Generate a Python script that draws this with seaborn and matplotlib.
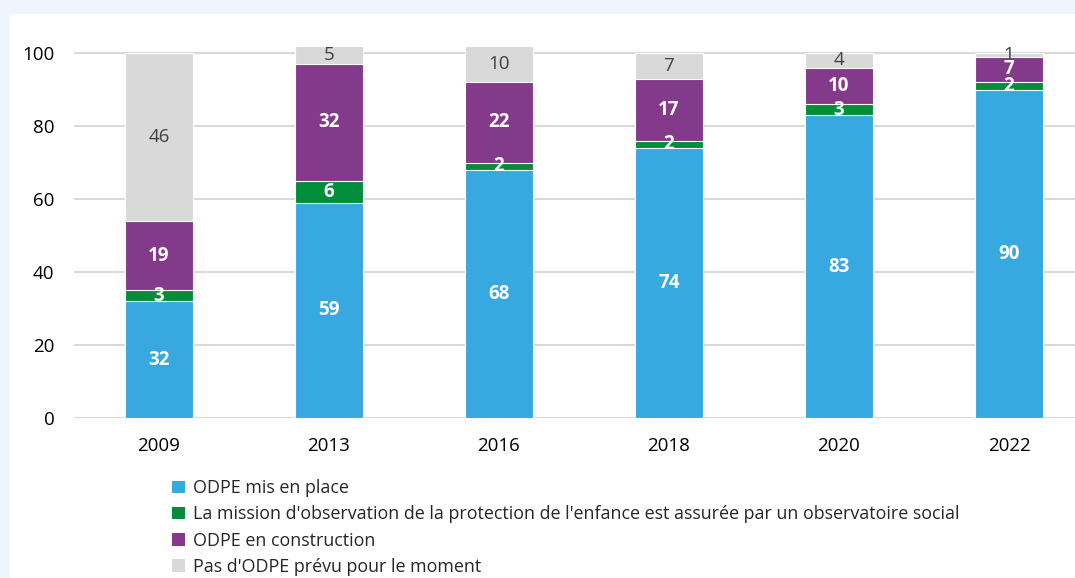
import numpy as np
import pandas as pd
from matplotlib import pyplot as plt
from matplotlib.patches import Rectangle, Patch
import seaborn as sns

# data
years = ["2009", "2013", "2016", "2018", "2020", "2022"]
mis_en_place = [32, 59, 68, 74, 83, 90]
mission_obs = [3, 6, 2, 2, 3, 2]
en_construction = [19, 32, 22, 17, 10, 7]
pas_prevu = [46, 5, 10, 7, 4, 1]
series_names = ["ODPE mis en place",
                "La mission d'observation de la protection de l'enfance est assurée par un observatoire social",
                "ODPE en construction",
                "Pas d'ODPE prévu pour le moment"]
colors = ["#38A9E0", "#038C3A", "#833A8B", "#D9D9D9"]

sns.set_style("white")
plt.rcParams['font.family'] = ['Open Sans', 'DejaVu Sans']

df = pd.DataFrame({"year": years, "s1": mis_en_place, "s2": mission_obs,
                   "s3": en_construction, "s4": pas_prevu})
cols = ["s1", "s2", "s3", "s4"]
cum = df[cols].cumsum(axis=1)

fig = plt.figure(figsize=(10.75, 5.78), dpi=100)
fig.patch.set_facecolor("#EEF5FC")
fig.patches.append(Rectangle((10/1075, 0), 1, (578-14)/578, transform=fig.transFigure,
                             facecolor="white", edgecolor="none", zorder=-1))
ax = fig.add_axes([74/1075, 160/578, 1020/1075, 0.644])
ax.set_facecolor("none")

# stacked bars: draw cumulative totals from top down
for i in range(3, -1, -1):
    sns.barplot(x=df["year"], y=cum[cols[i]], color=colors[i], width=0.4,
                edgecolor="white", linewidth=0.8, saturation=1, ax=ax, zorder=3)

# labels
for j in range(len(years)):
    base = 0
    for i, c in enumerate(cols):
        v = df[c][j]
        mid = base + v / 2
        if i < 3:
            ax.text(j, mid, str(v), ha="center", va="center", color="white",
                    fontsize=13.5, fontweight="bold", zorder=5)
        else:
            ax.text(j, mid, str(v), ha="center", va="center", color="#404040",
                    fontsize=13.5, zorder=5)
        base += v

ax.set_xlim(-0.5, 5.5)
ax.set_ylim(0, 102)
ax.set_yticks([0, 20, 40, 60, 80, 100])
ax.yaxis.grid(True, color="#D9D9D9", linewidth=1.5, zorder=0)
ax.set_axisbelow(True)
for s in ax.spines.values():
    s.set_visible(False)
ax.tick_params(axis="both", length=0, labelsize=13.5, colors="black")
ax.tick_params(axis="y", pad=14)
ax.tick_params(axis="x", pad=14)
ax.set_xlabel("")
ax.set_ylabel("")

handles = [Patch(facecolor=colors[i], edgecolor="none") for i in range(4)]
fig.legend(handles, series_names, loc="upper left", bbox_to_anchor=(165/1075, 1 - 472/578),
           frameon=False, fontsize=12.9, handlelength=0.7, handleheight=0.7,
           handletextpad=0.45, labelspacing=0.46, borderaxespad=0)

fig.savefig("out.png", dpi=100, facecolor=fig.get_facecolor())
